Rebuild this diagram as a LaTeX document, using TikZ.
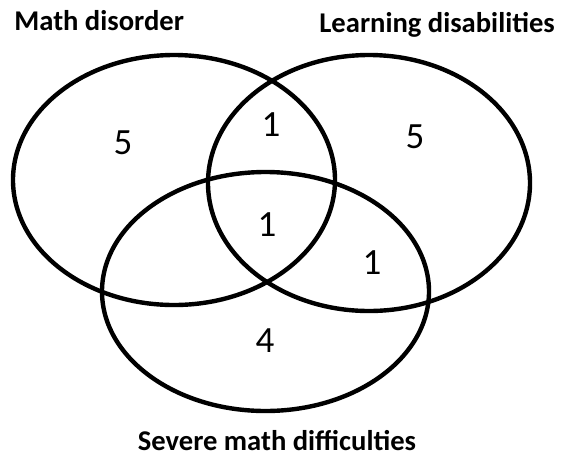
\documentclass[tikz,border=0pt]{standalone}
\usepackage{fontspec}
\setmainfont{Carlito}
\begin{document}
\begin{tikzpicture}[x=0.5pt,y=-0.5pt,
    set/.style={line width=2.2pt},
    setname/.style={inner sep=0pt, font=\fontsize{14.3}{16}\selectfont\bfseries},
    count/.style={font=\fontsize{18.5}{20}\selectfont}]
                \useasboundingbox (0,0) rectangle (563,457);

                \draw[set] (174,180) ellipse (161 and 125);
                \draw[set] (369,183) ellipse (161 and 128);
                \draw[set] (265.5,291.5) ellipse (163.5 and 119.5);

                \node[setname, anchor=base west] (mathdis) at (14,30) {Math disorder};
                \node[setname, anchor=base west] (learndis) at (319,32) {Learning disabilities};
                \node[setname, anchor=base] (severe) at (277,450) {Severe math difficulties};

                \node[count] (monly) at (123,143) {5};
                \node[count] (ml) at (271,125) {1};
                \node[count] (lonly) at (415,137) {5};
                \node[count] (mls) at (267,225) {1};
                \node[count] (ls) at (372,263) {1};
                \node[count] (sonly) at (265,341) {4};
            \end{tikzpicture}
\end{document}
